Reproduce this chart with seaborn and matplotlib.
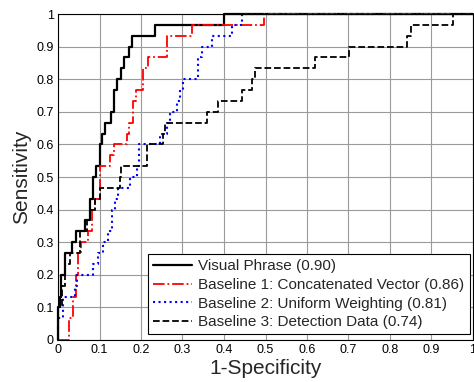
import numpy as np
import pandas as pd
import matplotlib
matplotlib.use("Agg")
import matplotlib.pyplot as plt
import seaborn as sns

# ROC step points: x = 1-specificity where the jump happens, y = sensitivity after the jump
vp_x = [0, 0, 0.004, 0.008, 0.017, 0.033, 0.043, 0.065, 0.077, 0.085, 0.092, 0.1, 0.105, 0.113,
        0.127, 0.135, 0.143, 0.151, 0.159, 0.17, 0.178, 0.234, 0.4, 1.0]
vp_y = [0, 0.1, 0.133, 0.2, 0.267, 0.3, 0.333, 0.367, 0.433, 0.5, 0.533, 0.6, 0.633, 0.667,
        0.7, 0.767, 0.8, 0.833, 0.867, 0.9, 0.933, 0.967, 1.0, 1.0]

b1_x = [0, 0.027, 0.037, 0.043, 0.049, 0.056, 0.073, 0.081, 0.088, 0.1, 0.125, 0.136, 0.167,
        0.171, 0.181, 0.188, 0.206, 0.218, 0.262, 0.322, 0.496, 1.0]
b1_y = [0, 0.067, 0.133, 0.2, 0.267, 0.3, 0.333, 0.4, 0.433, 0.533, 0.567, 0.6, 0.633,
        0.667, 0.733, 0.767, 0.833, 0.867, 0.933, 0.967, 1.0, 1.0]

b2_x = [0, 0.001, 0.013, 0.041, 0.045, 0.085, 0.097, 0.109, 0.121, 0.129, 0.137, 0.145, 0.173,
        0.19, 0.194, 0.246, 0.262, 0.27, 0.286, 0.294, 0.302, 0.338, 0.346, 0.37, 0.42, 0.443, 1.0]
b2_y = [0, 0.067, 0.133, 0.167, 0.2, 0.233, 0.267, 0.3, 0.333, 0.4, 0.433, 0.467, 0.5,
        0.533, 0.6, 0.633, 0.667, 0.7, 0.733, 0.767, 0.8, 0.867, 0.9, 0.933, 0.967, 1.0, 1.0]

b3_x = [0, 0.001, 0.009, 0.017, 0.029, 0.053, 0.069, 0.077, 0.088, 0.1, 0.149, 0.153, 0.214,
        0.254, 0.258, 0.358, 0.386, 0.443, 0.467, 0.475, 0.619, 0.702, 0.84, 0.851, 0.953, 1.0]
b3_y = [0, 0.1, 0.167, 0.233, 0.267, 0.333, 0.367, 0.4, 0.433, 0.467, 0.5, 0.533, 0.6,
        0.633, 0.667, 0.7, 0.733, 0.767, 0.8, 0.833, 0.867, 0.9, 0.933, 0.967, 1.0, 1.0]

labels = ["Visual Phrase (0.90)",
          "Baseline 1: Concatenated Vector (0.86)",
          "Baseline 2: Uniform Weighting (0.81)",
          "Baseline 3: Detection Data (0.74)"]
tick_vals = [0, 0.1, 0.2, 0.3, 0.4, 0.5, 0.6, 0.7, 0.8, 0.9, 1]
tick_labels = ["0", "0.1", "0.2", "0.3", "0.4", "0.5", "0.6", "0.7", "0.8", "0.9", "1"]

sns.set_style("white")
plt.rcParams['font.family'] = ['Liberation Sans', 'DejaVu Sans']

fig = plt.figure(figsize=(4.74, 3.82), dpi=100)
ax = fig.add_axes([58/474, 42/382, 415/474, 326/382])

styles = [
    dict(color="black", linestyle="-", linewidth=1.6),
    dict(color="red", linestyle="-.", linewidth=1.3),
    dict(color="blue", linestyle=":", linewidth=1.5),
    dict(color="black", linestyle="--", linewidth=1.3),
]
series = [(vp_x, vp_y), (b1_x, b1_y), (b2_x, b2_y), (b3_x, b3_y)]
for (xs, ys), lab, st in zip(series, labels, styles):
    df = pd.DataFrame({"x": xs, "y": ys})
    sns.lineplot(data=df, x="x", y="y", ax=ax, estimator=None, sort=False,
                 drawstyle="steps-post", label=lab, clip_on=False, **st)

ax.set_xlim(0, 1)
ax.set_ylim(0, 1)
ax.set_xticks(tick_vals)
ax.set_xticklabels(tick_labels)
ax.set_yticks(tick_vals)
ax.set_yticklabels(tick_labels)
ax.grid(True, color="#9a9a9a", linewidth=0.8)
ax.set_axisbelow(True)
ax.tick_params(direction="in", length=3, labelsize=9, colors="black", pad=3)
for s in ax.spines.values():
    s.set_color("black")
    s.set_linewidth(0.8)
ax.set_xlabel("1-Specificity", fontsize=15, labelpad=2)
ax.set_ylabel("Sensitivity", fontsize=15, labelpad=4)

leg = ax.legend(loc="lower left", bbox_to_anchor=(0.217, 0.017, 0.776, 0.254), mode="expand",
                fontsize=11, frameon=True, fancybox=False, framealpha=1,
                edgecolor="black", handlelength=2.5, handletextpad=0.4,
                labelspacing=0.3, borderpad=0.35, borderaxespad=0)
leg.get_frame().set_linewidth(0.8)
leg.set_zorder(5)

fig.savefig("out.png", dpi=100)
